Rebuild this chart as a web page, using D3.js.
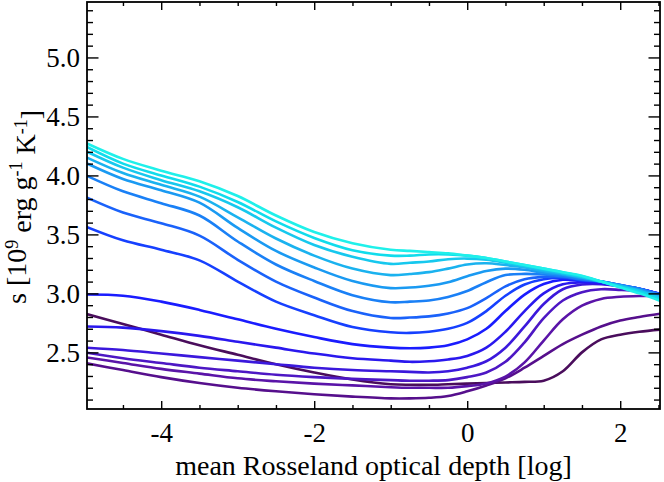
<!DOCTYPE html>
<html>
<head>
<meta charset="utf-8">
<script src="https://cdn.jsdelivr.net/npm/d3@7"></script>
<style>
  body { margin: 0; background: #fff; }
  svg { display: block; }
  text { font-family: "Liberation Serif", "Times New Roman", serif; fill: #000; }
</style>
</head>
<body>
<div class="container"></div>
<script>
// log mean Rosseland optical depth sample points
var depth = [-5, -4.5, -4, -3.5, -3, -2.5, -2, -1.5, -1, -0.75, -0.5, -0.25,
             0, 0.25, 0.5, 0.75, 1, 1.25, 1.5, 1.75, 2, 2.25, 2.55];

// entropy curves, darkest (first) to cyan (last)
var curve00 = [2.83, 2.74, 2.65, 2.56, 2.48, 2.40, 2.33, 2.27, 2.23, 2.225, 2.225, 2.23, 2.235, 2.24, 2.245, 2.25, 2.26, 2.34, 2.50, 2.61, 2.65, 2.675, 2.695];
var curve01 = [2.41, 2.35, 2.29, 2.24, 2.20, 2.17, 2.145, 2.125, 2.11, 2.11, 2.115, 2.13, 2.17, 2.22, 2.28, 2.37, 2.47, 2.57, 2.65, 2.72, 2.77, 2.80, 2.83];
var curve02 = [2.46, 2.41, 2.36, 2.32, 2.28, 2.255, 2.235, 2.22, 2.205, 2.20, 2.20, 2.20, 2.214, 2.237, 2.295, 2.415, 2.60, 2.78, 2.896, 2.953, 2.971, 2.978, 2.98];
var curve03 = [2.50, 2.45, 2.41, 2.37, 2.34, 2.31, 2.29, 2.275, 2.265, 2.26, 2.26, 2.265, 2.29, 2.33, 2.42, 2.585, 2.79, 2.94, 3.01, 3.035, 3.03, 3.018, 2.985];
var curve04 = [2.54, 2.52, 2.49, 2.46, 2.43, 2.40, 2.37, 2.35, 2.34, 2.335, 2.33, 2.34, 2.37, 2.425, 2.54, 2.72, 2.91, 3.035, 3.075, 3.078, 3.06, 3.036, 2.99];
var curve05 = [2.72, 2.71, 2.68, 2.64, 2.59, 2.54, 2.49, 2.45, 2.43, 2.42, 2.425, 2.44, 2.47, 2.54, 2.675, 2.85, 3.0, 3.077, 3.093, 3.085, 3.063, 3.038, 2.99];
var curve06 = [2.99, 2.98, 2.93, 2.86, 2.78, 2.70, 2.63, 2.57, 2.54, 2.535, 2.54, 2.56, 2.61, 2.70, 2.85, 2.99, 3.08, 3.115, 3.105, 3.095, 3.066, 3.04, 2.99];
var curve07 = [3.57, 3.45, 3.37, 3.28, 3.10, 2.93, 2.815, 2.715, 2.67, 2.665, 2.675, 2.70, 2.75, 2.85, 2.98, 3.075, 3.12, 3.13, 3.11, 3.10, 3.07, 3.04, 2.99];
var curve08 = [3.82, 3.685, 3.595, 3.49, 3.285, 3.10, 2.965, 2.85, 2.792, 2.795, 2.805, 2.83, 2.875, 2.96, 3.06, 3.12, 3.14, 3.14, 3.117, 3.10, 3.07, 3.04, 2.985];
var curve09 = [4.005, 3.865, 3.765, 3.66, 3.44, 3.245, 3.105, 2.985, 2.925, 2.93, 2.94, 2.97, 3.02, 3.095, 3.155, 3.165, 3.16, 3.145, 3.12, 3.10, 3.07, 3.04, 2.98];
var curve10 = [4.11, 3.97, 3.875, 3.77, 3.555, 3.36, 3.22, 3.105, 3.045, 3.05, 3.065, 3.095, 3.145, 3.19, 3.21, 3.20, 3.175, 3.158, 3.13, 3.10, 3.068, 3.03, 2.97];
var curve11 = [4.16, 4.02, 3.92, 3.82, 3.645, 3.465, 3.32, 3.21, 3.155, 3.165, 3.18, 3.21, 3.245, 3.255, 3.24, 3.22, 3.19, 3.165, 3.135, 3.10, 3.065, 3.025, 2.96];
var curve12 = [4.21, 4.066, 3.96, 3.865, 3.73, 3.557, 3.41, 3.31, 3.25, 3.26, 3.27, 3.29, 3.295, 3.285, 3.26, 3.23, 3.20, 3.17, 3.14, 3.10, 3.06, 3.02, 2.95];
var curve13 = [4.25, 4.10, 4.00, 3.905, 3.775, 3.61, 3.47, 3.366, 3.32, 3.32, 3.33, 3.33, 3.32, 3.30, 3.27, 3.24, 3.21, 3.18, 3.145, 3.10, 3.055, 3.01, 2.94];
var curve14 = [4.28, 4.14, 4.04, 3.95, 3.825, 3.66, 3.52, 3.425, 3.37, 3.36, 3.35, 3.34, 3.32, 3.30, 3.27, 3.24, 3.21, 3.18, 3.15, 3.10, 3.05, 3.00, 2.93];

var curves = [curve00, curve01, curve02, curve03, curve04, curve05, curve06, curve07,
              curve08, curve09, curve10, curve11, curve12, curve13, curve14];

var lineColors = ['#4a0d5c', '#560f8c', '#5a14a8', '#4d17c4', '#3b18dc', '#2a18ee', '#1a1cff', '#1640ff',
                  '#1a62fa', '#1a80f6', '#1a9af2', '#1ab2ef', '#16c8ee', '#10dcec', '#1ff0ea'];

var xTicks = [-4, -2, 0, 2];
var yTicks = [2.5, 3.0, 3.5, 4.0, 4.5, 5.0];

/* ===== SET UP CHART ===== */

var w = 664, h = 482;
var margin = {top: 2, right: 4, bottom: 73, left: 87},
  width = w - margin.left - margin.right,
  height = h - margin.top - margin.bottom;

var svg = d3.select('.container')
  .append('svg')
  .attr('width', w)
  .attr('height', h);

var g = svg.append('g')
  .attr('transform', 'translate(' + margin.left + ',' + margin.top + ')');

var xScale = d3.scaleLinear().domain([-4.97, 2.52]).range([0, width]);
var yScale = d3.scaleLinear().domain([2.02, 5.47]).range([height, 0]);

g.append('clipPath').attr('id', 'plotArea')
  .append('rect').attr('width', width).attr('height', height);

/* ===== CURVES ===== */

var line = d3.line()
  .x(function(d, i) { return xScale(depth[i]); })
  .y(function(d) { return yScale(d); })
  .curve(d3.curveCatmullRom.alpha(0.5));

g.append('g')
  .attr('clip-path', 'url(#plotArea)')
  .selectAll('path')
  .data(curves)
  .enter()
  .append('path')
  .attr('d', line)
  .attr('fill', 'none')
  .attr('stroke', function(d, i) { return lineColors[i]; })
  .attr('stroke-width', 2.6)
  .attr('stroke-linejoin', 'round');

/* ===== AXES ===== */

var xMinor = d3.range(-4.5, 2.6, 0.5).filter(function(v) { return xTicks.indexOf(v) < 0; });
var yMinor = d3.range(21, 55).map(function(v) { return v / 10; })
  .filter(function(v) { return yTicks.indexOf(v) < 0; });

function styleAxis(sel) {
  sel.select('.domain').remove();
  sel.selectAll('line').attr('stroke', '#000').attr('stroke-width', 1.4);
  sel.selectAll('text').style('font-size', '27px').attr('fill', '#000')
    .style('font-family', '"Liberation Serif", serif');
}

// bottom
g.append('g').attr('transform', 'translate(0,' + height + ')')
  .call(d3.axisBottom(xScale).tickValues(xTicks).tickSize(-8).tickPadding(14)
    .tickFormat(function(d) { return String(d); }))
  .call(styleAxis);
g.append('g').attr('transform', 'translate(0,' + height + ')')
  .call(d3.axisBottom(xScale).tickValues(xMinor).tickSize(-4).tickFormat(''))
  .call(styleAxis);
// top
g.append('g')
  .call(d3.axisTop(xScale).tickValues(xTicks).tickSize(-8).tickFormat(''))
  .call(styleAxis);
g.append('g')
  .call(d3.axisTop(xScale).tickValues(xMinor).tickSize(-4).tickFormat(''))
  .call(styleAxis);
// left
g.append('g')
  .call(d3.axisLeft(yScale).tickValues(yTicks).tickSize(-11.5).tickPadding(7)
    .tickFormat(d3.format('.1f')))
  .call(styleAxis);
g.append('g')
  .call(d3.axisLeft(yScale).tickValues(yMinor).tickSize(-6).tickFormat(''))
  .call(styleAxis);
// right
g.append('g').attr('transform', 'translate(' + width + ',0)')
  .call(d3.axisRight(yScale).tickValues(yTicks).tickSize(-11.5).tickFormat(''))
  .call(styleAxis);
g.append('g').attr('transform', 'translate(' + width + ',0)')
  .call(d3.axisRight(yScale).tickValues(yMinor).tickSize(-6).tickFormat(''))
  .call(styleAxis);

g.append('rect')
  .attr('width', width)
  .attr('height', height)
  .attr('fill', 'none')
  .attr('stroke', '#000')
  .attr('stroke-width', 1.8);

/* ===== LABELS ===== */

svg.append('text')
  .attr('x', margin.left + width / 2)
  .attr('y', 475)
  .attr('text-anchor', 'middle')
  .style('font-size', '28px')
  .text('mean Rosseland optical depth [log]');

var yLabel = svg.append('text')
  .attr('transform', 'translate(26,207) rotate(-90)')
  .attr('text-anchor', 'middle')
  .style('font-size', '28px');
yLabel.append('tspan').text('s [10');
yLabel.append('tspan').attr('dy', '-0.45em').style('font-size', '18px').text('9');
yLabel.append('tspan').attr('dy', '0.45em').text(' erg g');
yLabel.append('tspan').attr('dy', '-0.45em').style('font-size', '18px').text('-1');
yLabel.append('tspan').attr('dy', '0.45em').text(' K');
yLabel.append('tspan').attr('dy', '-0.45em').style('font-size', '18px').text('-1');
yLabel.append('tspan').attr('dy', '0.45em').text(']');
</script>
</body>
</html>
